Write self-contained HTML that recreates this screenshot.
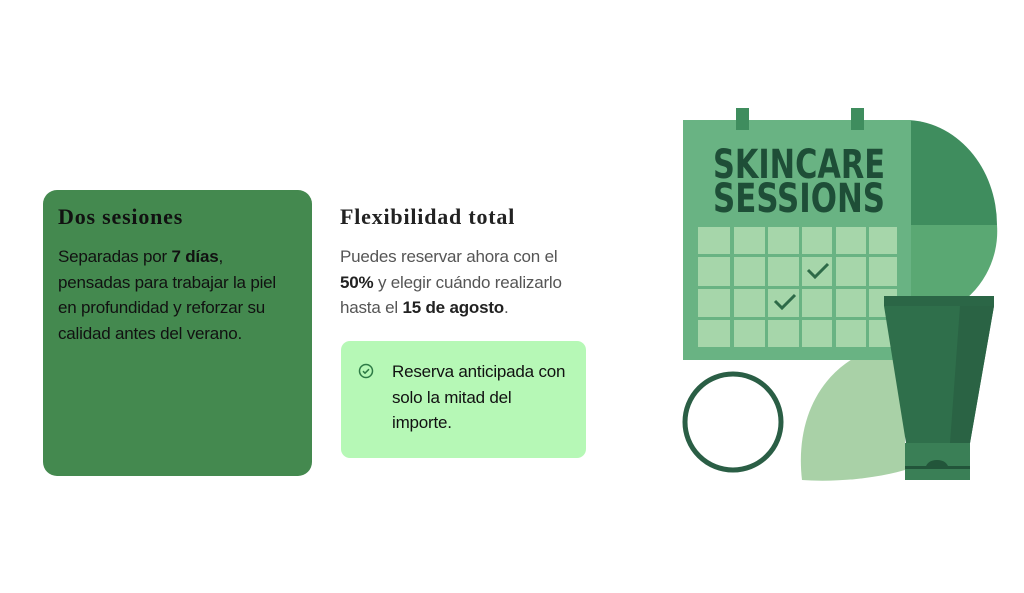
<!DOCTYPE html>
<html><head><meta charset="utf-8"><style>
body{margin:0;width:1024px;height:593px;background:#fff;position:relative;overflow:hidden;font-family:"Liberation Sans",sans-serif}
.a{position:absolute}
.c1{left:43px;top:190px;width:269px;height:286px;background:#44894f;border-radius:14px}
h3{margin:0;font-family:"Liberation Serif",serif;font-weight:bold;font-size:22px;letter-spacing:0.8px;color:#111;position:absolute;white-space:nowrap}
.p{font-size:17px;line-height:25.5px;position:absolute;white-space:nowrap;letter-spacing:-0.2px}
.c2{left:341px;top:341px;width:245px;height:117px;background:#b6f8b6;border-radius:9px}
</style></head><body>
<div class="a c1"></div>
<h3 style="left:58px;top:204px">Dos sesiones</h3>
<div class="p" style="left:58px;top:244px;color:#111">Separadas por <b>7 días</b>,<br>pensadas para trabajar la piel<br>en profundidad y reforzar su<br>calidad antes del verano.</div>
<h3 style="left:340px;top:204px;color:#222">Flexibilidad total</h3>
<div class="p" style="left:340px;top:244px;color:#555">Puedes reservar ahora con el<br><b style="color:#222">50%</b> y elegir cuándo realizarlo<br>hasta el <b style="color:#222">15 de agosto</b>.</div>
<div class="a c2"></div>
<svg class="a" style="left:358px;top:363px" width="16" height="16"><circle cx="8" cy="8" r="6.5" fill="none" stroke="#2d7a45" stroke-width="1.5"/><path d="M5 8.2l2 2 4-4" fill="none" stroke="#2d7a45" stroke-width="1.5"/></svg>
<div class="p" style="left:392px;top:359px;color:#111">Reserva anticipada con<br>solo la mitad del<br>importe.</div>
<svg class="a" style="left:0;top:0" width="1024" height="593">
<path d="M905 120 A92 105 0 0 1 997 225 L905 225Z" fill="#3f8d5e"/>
<path d="M905 225 L997 225 A92 90 0 0 1 950 310 L905 310Z" fill="#5aa873"/>
<path d="M802 480 C795 420 820 370 870 350 L905 350 L905 470 C870 480 830 482 802 480Z" fill="#a9d1a7"/>
<rect x="683" y="120" width="228" height="240" fill="#69b383"/>
<rect x="736" y="108" width="13" height="22" fill="#3f8d5e"/>
<rect x="851" y="108" width="13" height="22" fill="#3f8d5e"/>
<text x="713" y="178" font-family="DejaVu Sans Condensed, DejaVu Sans" font-weight="bold" font-size="40" fill="#1e4e37" textLength="172" lengthAdjust="spacingAndGlyphs">SKINCARE</text>
<text x="713" y="212" font-family="DejaVu Sans Condensed, DejaVu Sans" font-weight="bold" font-size="40" fill="#1e4e37" textLength="172" lengthAdjust="spacingAndGlyphs">SESSIONS</text>
<g fill="#a6d6aa">
<rect x="698" y="227" width="32" height="27"/><rect x="734" y="227" width="31" height="27"/><rect x="768" y="227" width="31" height="27"/><rect x="802" y="227" width="30" height="27"/><rect x="836" y="227" width="30" height="27"/><rect x="869" y="227" width="28" height="27"/>
<rect x="698" y="257" width="32" height="29"/><rect x="734" y="257" width="31" height="29"/><rect x="768" y="257" width="31" height="29"/><rect x="802" y="257" width="30" height="29"/><rect x="836" y="257" width="30" height="29"/><rect x="869" y="257" width="28" height="29"/>
<rect x="698" y="289" width="32" height="28"/><rect x="734" y="289" width="31" height="28"/><rect x="768" y="289" width="31" height="28"/><rect x="802" y="289" width="30" height="28"/><rect x="836" y="289" width="30" height="28"/><rect x="869" y="289" width="28" height="28"/>
<rect x="698" y="320" width="32" height="27"/><rect x="734" y="320" width="31" height="27"/><rect x="768" y="320" width="31" height="27"/><rect x="802" y="320" width="30" height="27"/><rect x="836" y="320" width="30" height="27"/><rect x="869" y="320" width="28" height="27"/>
</g>
<path d="M808 270l7 7 13-13" fill="none" stroke="#2e6a48" stroke-width="3"/>
<path d="M775 301l7 7 13-13" fill="none" stroke="#2e6a48" stroke-width="3"/>
<circle cx="733" cy="422" r="48" fill="#fff" stroke="#2a5e45" stroke-width="5"/>
<path d="M884 296 L994 296 L994 306 L970 443 L906 443 L884 306Z" fill="#2f6f4b"/>
<path d="M960 306 L994 306 L970 443 L950 443Z" fill="#2a6344"/>
<rect x="884" y="296" width="110" height="10" fill="#2b6646"/>
<rect x="905" y="443" width="65" height="37" fill="#3a7f56"/>
<rect x="905" y="466" width="65" height="3" fill="#22553a"/>
<path d="M925 469 Q927 460 937 460 Q947 460 949 469Z" fill="#22553a"/>
</svg>
</body></html>
